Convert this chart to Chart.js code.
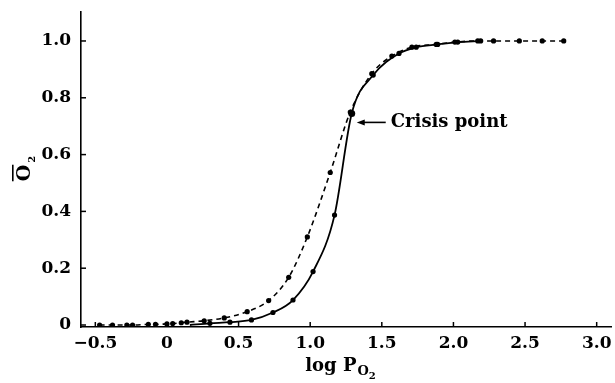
<!DOCTYPE html>
<html>
<head>
<meta charset="utf-8">
<script src="https://cdn.jsdelivr.net/npm/chart.js@4.4.1/dist/chart.umd.min.js"></script>
<style>
  html, body { margin: 0; padding: 0; background: #fff; }
  #wrap { width: 615px; height: 383px; position: relative; }
</style>
</head>
<body>
<div id="wrap"><canvas id="o2Chart"></canvas></div>
<script>
// dashed curve (with points)
const logP_dashed = [-0.47, -0.38, -0.28, -0.24, -0.13, -0.08, 0.0, 0.04, 0.10, 0.14, 0.26, 0.40, 0.56, 0.71, 0.85, 0.98, 1.14, 1.28, 1.43, 1.57, 1.71, 1.88, 2.01, 2.17, 2.28, 2.46, 2.62, 2.77];
const o2_dashed    = [0.0, 0.0, 0.0, 0.0, 0.002, 0.002, 0.004, 0.005, 0.008, 0.01, 0.015, 0.025, 0.047, 0.086, 0.168, 0.31, 0.537, 0.75, 0.885, 0.947, 0.978, 0.988, 0.996, 1.0, 1.0, 1.0, 1.0, 1.0];

// solid curve
const logP_solid = [0.16, 0.30, 0.44, 0.59, 0.74, 0.88, 1.02, 1.17, 1.29, 1.44, 1.62, 1.74, 1.89, 2.03, 2.19];
const o2_solid   = [0.0, 0.006, 0.01, 0.018, 0.044, 0.088, 0.188, 0.387, 0.745, 0.88, 0.956, 0.978, 0.988, 0.996, 1.0];

const xTicks = [-0.5, 0, 0.5, 1.0, 1.5, 2.0, 2.5, 3.0];
const yTicks = [0, 0.2, 0.4, 0.6, 0.8, 1.0];

const crisisIndex = 8; // index in solid curve
const serif = '"DejaVu Serif", "Liberation Serif", serif';

function fmtX(v) {
  if (v === 0) return '0';
  return (v < 0 ? '\u2212' : '') + Math.abs(v).toFixed(1);
}
function fmtY(v) {
  return v === 0 ? '0' : v.toFixed(1);
}

const extras = {
  id: 'extras',
  afterDraw(chart) {
    const ctx = chart.ctx;
    const xs = chart.scales.x, ys = chart.scales.y;
    const area = chart.chartArea;
    ctx.save();
    ctx.strokeStyle = '#000';
    ctx.lineWidth = 1.5;
    // inward tick marks
    xTicks.forEach(v => {
      const px = xs.getPixelForValue(v);
      ctx.beginPath();
      ctx.moveTo(px, area.bottom);
      ctx.lineTo(px, area.bottom - 5);
      ctx.stroke();
    });
    yTicks.forEach(v => {
      const py = ys.getPixelForValue(v);
      ctx.beginPath();
      ctx.moveTo(area.left, py);
      ctx.lineTo(area.left + 5, py);
      ctx.stroke();
    });

    ctx.fillStyle = '#000';
    // x title: log P_O2
    ctx.textBaseline = 'alphabetic';
    ctx.textAlign = 'left';
    ctx.font = 'bold 18px ' + serif;
    const t1 = 'log P';
    const w1 = ctx.measureText(t1).width;
    ctx.font = 'bold 13px ' + serif;
    const w2 = ctx.measureText('O').width;
    ctx.font = 'bold 10px ' + serif;
    const w3 = ctx.measureText('2').width;
    let x0 = 340 - (w1 + w2 + w3) / 2;
    const base = 371;
    ctx.font = 'bold 18px ' + serif;
    ctx.fillText(t1, x0, base);
    ctx.font = 'bold 13px ' + serif;
    ctx.fillText('O', x0 + w1 + 1, base + 4);
    ctx.font = 'bold 10px ' + serif;
    ctx.fillText('2', x0 + w1 + w2 + 1, base + 8);

    // y title: O-bar sub 2, rotated
    ctx.save();
    ctx.translate(30, 170);
    ctx.rotate(-Math.PI / 2);
    ctx.font = 'bold 19px ' + serif;
    const wo = ctx.measureText('O').width;
    ctx.textAlign = 'left';
    ctx.fillText('O', -wo / 2 - 3, 0);
    ctx.fillRect(-wo / 2 - 3, -18, wo, 1.6);
    ctx.font = 'bold 10px ' + serif;
    ctx.fillText('2', wo / 2 - 1, 5);
    ctx.restore();

    // crisis point annotation
    const cx = xs.getPixelForValue(logP_solid[crisisIndex]);
    const cy = ys.getPixelForValue(o2_solid[crisisIndex]);
    const ay = cy + 9;
    const tip = cx + 5;
    ctx.lineWidth = 1.6;
    ctx.beginPath();
    ctx.moveTo(tip + 4, ay);
    ctx.lineTo(tip + 29, ay);
    ctx.stroke();
    ctx.beginPath();
    ctx.moveTo(tip, ay);
    ctx.lineTo(tip + 8, ay - 3);
    ctx.lineTo(tip + 8, ay + 3);
    ctx.closePath();
    ctx.fill();
    ctx.font = 'bold 18px ' + serif;
    ctx.textBaseline = 'middle';
    ctx.fillText('Crisis point', tip + 34, ay);
    ctx.restore();
  }
};

new Chart(document.getElementById('o2Chart'), {
  type: 'line',
  data: {
    datasets: [
      {
        label: 'dashed',
        data: logP_dashed.map((x, i) => ({ x: x, y: o2_dashed[i] })),
        borderColor: '#000',
        borderWidth: 1.6,
        borderDash: [5, 4],
        cubicInterpolationMode: 'monotone',
        pointRadius: 2.6,
        pointBackgroundColor: '#000',
        pointBorderWidth: 0,
        fill: false
      },
      {
        label: 'solid',
        data: logP_solid.map((x, i) => ({ x: x, y: o2_solid[i] })),
        borderColor: '#000',
        borderWidth: 1.8,
        cubicInterpolationMode: 'monotone',
        pointRadius: logP_solid.map((x, i) => (i === 0 ? 0 : (i === crisisIndex ? 3.5 : 2.6))),
        pointBackgroundColor: '#000',
        pointBorderWidth: 0,
        fill: false
      }
    ]
  },
  options: {
    responsive: true,
    maintainAspectRatio: false,
    animation: false,
    layout: { padding: { top: 12, right: 4, left: 0, bottom: 0 } },
    plugins: {
      legend: { display: false },
      tooltip: { enabled: false }
    },
    scales: {
      x: {
        type: 'linear',
        min: -0.6,
        max: 3.1,
        afterBuildTicks: s => { s.ticks = xTicks.map(v => ({ value: v })); },
        afterFit: s => { s.height = 56; s.paddingLeft = 0; s.paddingRight = 0; },
        ticks: {
          color: '#000',
          padding: 6,
          maxRotation: 0,
          font: { family: serif, size: 17, weight: 'bold' },
          callback: v => fmtX(v)
        },
        grid: { display: false, drawTicks: false },
        border: { display: true, color: '#000', width: 1.6 }
      },
      y: {
        type: 'linear',
        min: -0.007,
        max: 1.102,
        afterBuildTicks: s => { s.ticks = yTicks.map(v => ({ value: v })); },
        afterFit: s => { s.width = 81; s.paddingTop = 0; s.paddingBottom = 0; },
        ticks: {
          color: '#000',
          padding: 10,
          font: { family: serif, size: 17, weight: 'bold' },
          callback: v => fmtY(v)
        },
        grid: { display: false, drawTicks: false },
        border: { display: true, color: '#000', width: 1.6 }
      }
    }
  },
  plugins: [extras]
});
</script>
</body>
</html>
